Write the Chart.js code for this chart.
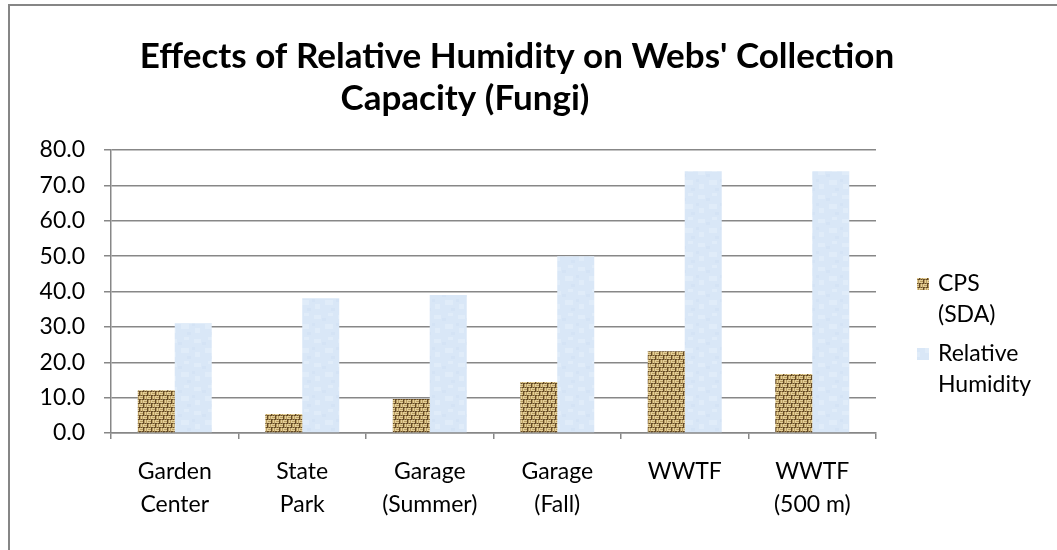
<!DOCTYPE html>
<html>
<head>
<meta charset="utf-8">
<script src="https://cdn.jsdelivr.net/npm/chart.js@4.4.1/dist/chart.umd.min.js"></script>
<style>
  html, body { margin: 0; padding: 0; background: #fff; }
  #wrap { width: 1057px; height: 550px; }
</style>
</head>
<body>
<div id="wrap"><canvas id="c" width="1057" height="550"></canvas></div>
<script>
const titleLines = ["Effects of Relative Humidity on Webs' Collection", "Capacity (Fungi)"];
const categories = [["Garden", "Center"], ["State", "Park"], ["Garage", "(Summer)"], ["Garage", "(Fall)"], ["WWTF"], ["WWTF", "(500 m)"]];
const seriesNames = [["CPS", "(SDA)"], ["Relative", "Humidity"]];
const cpsValues = [12.1, 5.4, 9.6, 14.4, 23.1, 16.7];
const humidityValues = [31.0, 38.1, 39.0, 50.0, 74.0, 74.0];
const yMin = 0, yMax = 80, yStep = 10;

function burlapPattern(ctx) {
  const map = [
    "LLLDMLML",
    "MMMDMLML",
    "LLLDMLML",
    "DTDDTDTD",
    "MLMLLLLD",
    "MLMLMMMD",
    "MLMLLLLD",
    "TDTDDTDD"
  ];
  const col = { L: '#e4cf97', M: '#b99c62', D: '#654b27', T: '#9c814c' };
  const cv = document.createElement('canvas');
  cv.width = cv.height = 8;
  const c = cv.getContext('2d');
  map.forEach((row, y) => [...row].forEach((ch, x) => { c.fillStyle = col[ch]; c.fillRect(x, y, 1, 1); }));
  return ctx.createPattern(cv, 'repeat');
}
function frostPattern(ctx) {
  const s = 24, cv = document.createElement('canvas');
  cv.width = cv.height = s;
  const c = cv.getContext('2d');
  c.fillStyle = '#d9e7f7'; c.fillRect(0, 0, s, s);
  c.fillStyle = '#e0ecf9';
  c.fillRect(2, 3, 7, 4); c.fillRect(13, 12, 8, 5); c.fillRect(16, 1, 5, 3); c.fillRect(3, 16, 5, 5);
  c.fillStyle = '#d4e3f5';
  c.fillRect(10, 6, 4, 3); c.fillRect(0, 11, 3, 3); c.fillRect(19, 20, 4, 3);
  return ctx.createPattern(cv, 'repeat');
}

const canvas = document.getElementById('c');
const ctx0 = canvas.getContext('2d');
const fills = [burlapPattern(ctx0), frostPattern(ctx0)];

const FONT = 'Lato, "Open Sans", "Liberation Sans", sans-serif';
const GRID = '#878787';

const framePlugin = {
  id: 'frame',
  beforeDraw(chart) {
    const c = chart.ctx;
    c.save();
    c.fillStyle = '#fff';
    c.fillRect(0, 0, chart.width, chart.height);
    c.strokeStyle = '#868686';
    c.lineWidth = 2;
    c.beginPath();
    c.moveTo(9, chart.height + 2);
    c.lineTo(9, 5);
    c.lineTo(chart.width + 2, 5);
    c.stroke();
    c.restore();
  },
  afterDraw(chart) {
    const c = chart.ctx;
    c.save();
    c.fillStyle = '#000';
    c.textAlign = 'center';
    c.textBaseline = 'middle';
    c.font = 'bold 35px ' + FONT;
    c.fillText(titleLines[0], 517, 57);
    c.fillText(titleLines[1], 465, 99);
    // legend
    c.font = '23px ' + FONT;
    c.textAlign = 'left';
    const firstY = [284, 354];
    seriesNames.forEach((lines, i) => {
      const y = firstY[i];
      c.fillStyle = fills[i];
      c.fillRect(917, y - 6, 12, 12);
      c.fillStyle = '#000';
      lines.forEach((t, j) => c.fillText(t, 938, y + j * 31));
    });
    c.restore();
  }
};

new Chart(canvas, {
  type: 'bar',
  data: {
    labels: categories,
    datasets: [
      { label: seriesNames[0].join(' '), data: cpsValues, backgroundColor: fills[0], borderWidth: 0 },
      { label: seriesNames[1].join(' '), data: humidityValues, backgroundColor: fills[1], borderWidth: 0 }
    ]
  },
  options: {
    responsive: false,
    animation: false,
    devicePixelRatio: 1,
    categoryPercentage: 0.58,
    barPercentage: 1.0,
    layout: { padding: { left: 9, top: 150, right: 181, bottom: 0 } },
    plugins: { legend: { display: false }, title: { display: false }, tooltip: { enabled: false } },
    scales: {
      x: {
        grid: { display: true, offset: true, drawOnChartArea: false, drawTicks: true, tickLength: 6, color: GRID, lineWidth: 1.5 },
        border: { display: true, color: GRID, width: 1.5 },
        ticks: { color: '#000', font: { family: FONT, size: 23, lineHeight: 1.45 }, padding: 16, maxRotation: 0, autoSkip: false },
        afterFit(scale) { scale.height = 117; }
      },
      y: {
        min: yMin, max: yMax,
        grid: { color: GRID, lineWidth: 1.5, tickLength: 7, drawTicks: true },
        border: { display: true, color: GRID, width: 1.5 },
        ticks: { stepSize: yStep, color: '#000', font: { family: FONT, size: 23 }, padding: 19,
                 callback: v => Number(v).toFixed(1) },
        afterFit(scale) { scale.width = 102; }
      }
    }
  },
  plugins: [framePlugin]
});
</script>
</body>
</html>
